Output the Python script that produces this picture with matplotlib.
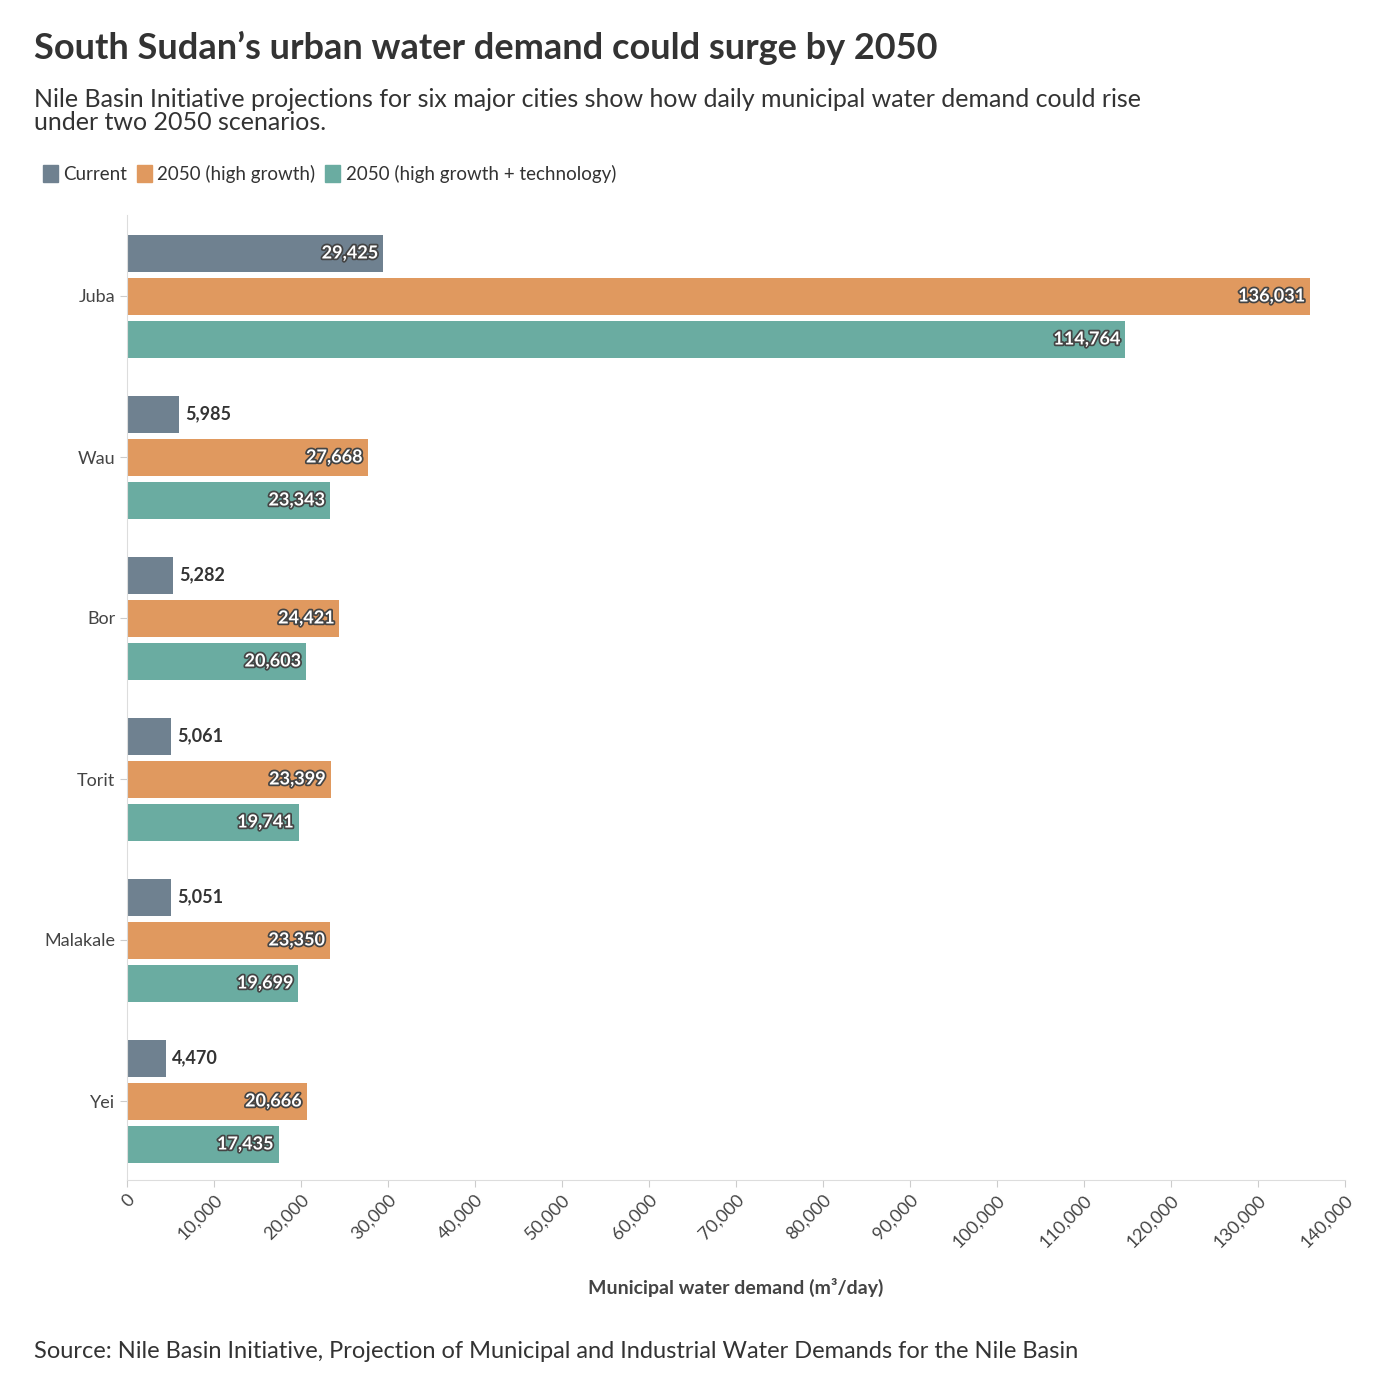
import matplotlib
matplotlib.use("Agg")
import matplotlib.pyplot as plt
import matplotlib.patheffects as pe
from matplotlib.patches import Patch

cities = ["Juba", "Wau", "Bor", "Torit", "Malakale", "Yei"]
current = [29425, 5985, 5282, 5061, 5051, 4470]
high = [136031, 27668, 24421, 23399, 23350, 20666]
tech = [114764, 23343, 20603, 19741, 19699, 17435]
series_names = ["Current", "2050 (high growth)", "2050 (high growth + technology)"]
colors = ["#6f8190", "#e0995f", "#6aaca1"]
ticks = list(range(0, 140001, 10000))

plt.rcParams['font.family'] = ['Lato', 'DejaVu Sans']
fig = plt.figure(figsize=(13.94, 13.84), dpi=100)
ax = fig.add_axes([127/1394, 1-1180/1384, (1345-127)/1394, (1180-215)/1384])

centers = [296 + 161*i for i in range(len(cities))]
offs = [-43, 0, 43]
for s, (vals, col) in enumerate(zip([current, high, tech], colors)):
    for c, v in zip(centers, vals):
        y = c + offs[s]
        ax.barh(y, v, height=37, color=col)
        lab = f"{v:,}"
        if v > 15000:
            ax.text(v - 600, y, lab, ha='right', va='center', color='white', fontsize=13,
                    fontweight='bold', path_effects=[pe.withStroke(linewidth=2.5, foreground=col if False else '#444444')])
        else:
            ax.text(v + 700, y, lab, ha='left', va='center', color='#333333', fontsize=13, fontweight='bold')

ax.set_ylim(1180, 215)
ax.set_xlim(0, 140000)
ax.set_yticks(centers)
ax.set_yticklabels(cities, fontsize=13, color='#444444')
ax.set_xticks(ticks)
ax.set_xticklabels([f"{t:,}" for t in ticks], rotation=45, ha='right', rotation_mode='anchor', fontsize=13, color='#444444')
for sp in ['top', 'right']:
    ax.spines[sp].set_visible(False)
for sp in ['left', 'bottom']:
    ax.spines[sp].set_color('#dddddd')
ax.tick_params(colors='#cccccc', labelcolor='#444444', length=5)
ax.set_xlabel("Municipal water demand (m³/day)", fontsize=14, fontweight='bold', color='#444444', labelpad=20)

fig.text(34/1394, 1-48/1384, "South Sudan’s urban water demand could surge by 2050", fontsize=26,
         fontweight='bold', color='#333333', va='center')
fig.text(34/1394, 1-111/1384, "Nile Basin Initiative projections for six major cities show how daily municipal water demand could rise\nunder two 2050 scenarios.",
         fontsize=18, color='#333333', va='center', linespacing=1.0)
handles = [Patch(color=c, label=n) for c, n in zip(colors, series_names)]
fig.legend(handles=handles, loc='center left', bbox_to_anchor=(26/1394, 1-174/1384), ncol=3, frameon=False,
           fontsize=13.5, handlelength=0.8, handleheight=1.0, handletextpad=0.3, columnspacing=0.5, labelcolor='#333333')
fig.text(34/1394, 1-1351/1384, "Source: Nile Basin Initiative, Projection of Municipal and Industrial Water Demands for the Nile Basin",
         fontsize=17, color='#333333', va='center')
fig.savefig("out.png", dpi=100)
